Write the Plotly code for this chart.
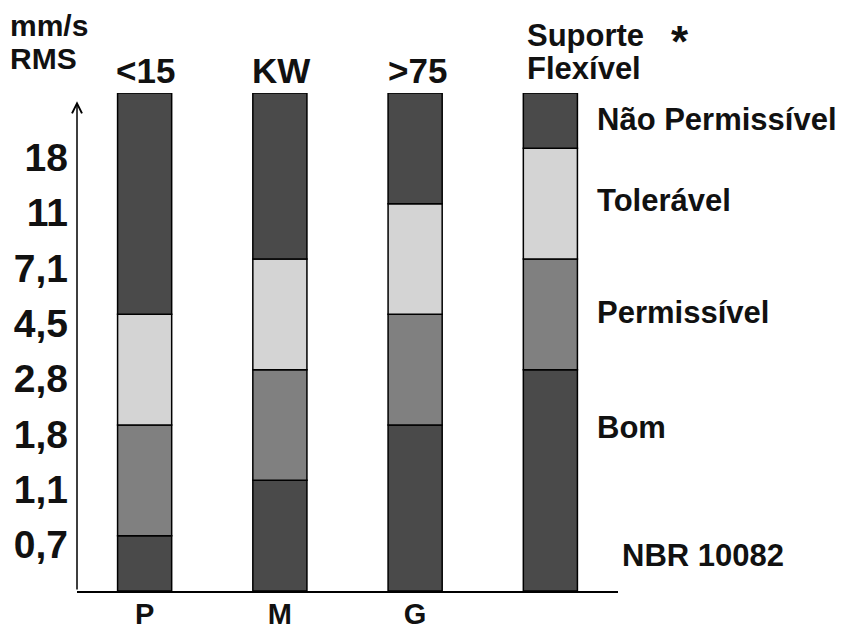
import plotly.graph_objects as go

# ---- data ----
levels = ["0,7", "1,1", "1,8", "2,8", "4,5", "7,1", "11", "18"]  # mm/s RMS scale (equal steps)
classes = ["P", "M", "G", ""]
group_labels = ["<15", "KW", ">75"]
bom_limit = ["0,7", "1,1", "1,8", "2,8"]
permissivel_limit = ["1,8", "2,8", "4,5", "7,1"]
toleravel_limit = ["4,5", "7,1", "11", "18"]
scale_top = 9  # top of the chart, in scale steps
zone_names = ["Bom", "Permissível", "Tolerável", "Não Permissível"]

# ---- styles ----
FONT = "Liberation Sans, Arial, sans-serif"
DARK = "#4a4a4a"
MID = "#808080"
LIGHT = "#d4d4d4"
zone_colors = [DARK, MID, LIGHT, DARK]

OFF = 8  # page body margin of the browser
W, H = 845 - OFF, 629 - OFF
L, R, T = 77 - OFF, 227, 93 - OFF
B = H - (591 - OFF)
PW, PH = W - L - R, H - T - B


def pos(label):
    return levels.index(label) + 1


x = list(range(len(classes)))
b_top = [pos(v) for v in bom_limit]
p_top = [pos(v) for v in permissivel_limit]
t_top = [pos(v) for v in toleravel_limit]

bases = [[0] * len(x), b_top, p_top, t_top]
tops = [b_top, p_top, t_top, [scale_top] * len(x)]

fig = go.Figure()
for name, col, base, top in zip(zone_names, zone_colors, bases, tops):
    fig.add_trace(go.Bar(
        x=x, y=[t - b for t, b in zip(top, base)], base=base,
        name=name, width=0.4,
        marker=dict(color=col, line=dict(color="black", width=1.5)),
        showlegend=False, hoverinfo="skip",
    ))


def px2paper(px, py):
    # px, py in window pixels
    return (px - OFF - L) / PW, (H - B - (py - OFF)) / PH


annotations = []


def text(s, px, py, size, anchor="left"):
    xp, yp = px2paper(px, py)
    annotations.append(dict(
        text=s, x=xp, y=yp, xref="paper", yref="paper", xanchor=anchor,
        yanchor="middle", showarrow=False,
        font=dict(family=FONT, size=size, color="#111111", weight="bold"),
    ))


text("mm/s", 8, 25, 30)
text("RMS", 8, 58, 30)
for lab, cx in zip(group_labels, [145, 281, 417]):
    text(lab, cx, 71, 35, anchor="center")
text("Suporte", 525, 36, 31)
text("Flexível", 525, 68, 31)
text("*", 669, 41, 44)
text("Não Permissível", 595, 119, 31)
text("Tolerável", 595, 200, 31)
text("Permissível", 595, 312, 31)
text("Bom", 595, 428, 31)
text("NBR 10082", 620, 555, 31)

# y axis drawn as an arrow
annotations.append(dict(
    x=-0.5, y=8.85, ax=-0.5, ay=0, xref="x", yref="y", axref="x", ayref="y",
    text="", showarrow=True, arrowhead=5, arrowsize=1.3, arrowwidth=1.5,
    arrowcolor="black",
))

fig.update_layout(
    width=W, height=H,
    margin=dict(l=L, r=R, t=T, b=B, pad=0, autoexpand=False),
    paper_bgcolor="white", plot_bgcolor="white",
    barmode="overlay",
    annotations=annotations,
    xaxis=dict(
        range=[-0.5, 3.5], tickvals=x[:3], ticktext=classes[:3],
        showline=True, linecolor="black", linewidth=1.5, automargin=False,
        showgrid=False, zeroline=False, ticks="", ticklabelstandoff=-4,
        tickfont=dict(family=FONT, size=29, color="#111111", weight="bold"),
    ),
    yaxis=dict(
        range=[0, scale_top], tickvals=[pos(v) for v in levels], ticktext=levels,
        showline=False, showgrid=False, zeroline=False, ticks="", automargin=False,
        ticklabelstandoff=8, ticklabelshift=9,
        tickfont=dict(family=FONT, size=39, color="#111111", weight="bold"),
    ),
)

fig.write_html("out.html")
